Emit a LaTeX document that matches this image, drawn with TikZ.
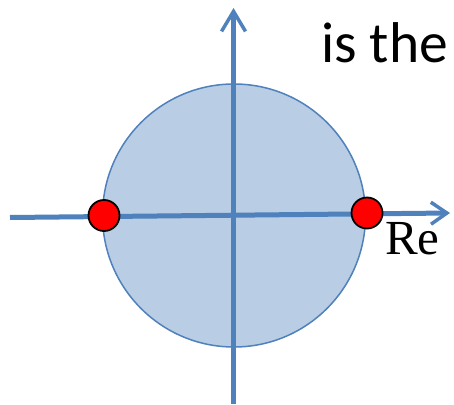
\documentclass[tikz,border=0pt]{standalone}
\usepackage{fontspec}
\setmainfont{Liberation Serif}
\newfontfamily\calfont{Carlito}
\usetikzlibrary{arrows.meta}
\definecolor{axisblue}{RGB}{79,129,189}
\definecolor{diskfill}{RGB}{185,205,229}
\tikzset{
  axisline/.style={draw=axisblue, line width=5pt},
  pole/.style={circle, fill=red, draw=black, line width=1.8pt, minimum size=31pt, inner sep=0pt},
}
\begin{document}
\begin{tikzpicture}[x=1pt,y=-1pt]
\useasboundingbox (0,0) rectangle (454,404);
\coordinate (o) at (234,215.5);
\fill[diskfill] (o) circle (131.5);
\draw[axisblue, line width=1.5pt] (o) circle (131.5);
\coordinate (xl) at (10,217.5);
\coordinate (xr) at (450,213);
\coordinate (yb) at (233.5,404);
\coordinate (yt) at (233.5,8);
\draw[axisline, -{Straight Barb[length=16pt,width=22pt,line width=3.5pt]}] (xl) -- (xr);
\draw[axisline, -{Straight Barb[length=20pt,width=24pt,line width=3.5pt]}] (yb) -- (yt);
\node[pole] (p1) at (104,215.5) {};
\node[pole] (p2) at (367,213) {};
\node[anchor=base west, font=\fontsize{49}{49}\selectfont, inner sep=0pt] (re) at (385,254) {Re};
\node[anchor=base west, font=\calfont\fontsize{57.5}{57.5}\selectfont, inner sep=0pt] (t) at (321,62) {is the};
\end{tikzpicture}
\end{document}
